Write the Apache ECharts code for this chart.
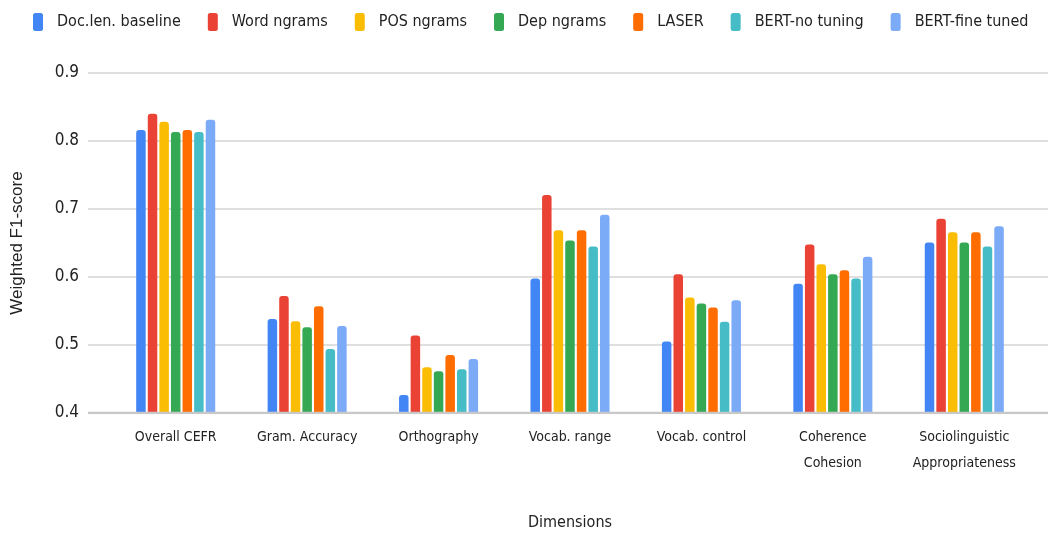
<!DOCTYPE html>
<html><head><meta charset="utf-8">
<script src="https://cdn.jsdelivr.net/npm/echarts@6/dist/echarts.min.js"></script>
<style>html,body{margin:0;padding:0;background:#fff}#c{width:1051px;height:536px}</style>
</head><body><div id="c"></div>
<script>
const categories = ['Overall CEFR','Gram. Accuracy','Orthography','Vocab. range','Vocab. control','Coherence\nCohesion','Sociolinguistic\nAppropriateness'];
const seriesNames = ['Doc.len. baseline','Word ngrams','POS ngrams','Dep ngrams','LASER','BERT-no tuning','BERT-fine tuned'];
const docLen   = [0.816,0.537,0.425,0.597,0.504,0.589,0.650];
const wordNg   = [0.840,0.571,0.513,0.720,0.603,0.647,0.685];
const posNg    = [0.828,0.534,0.466,0.668,0.569,0.618,0.665];
const depNg    = [0.813,0.525,0.460,0.653,0.560,0.603,0.650];
const laser    = [0.816,0.556,0.484,0.668,0.554,0.609,0.665];
const bertNo   = [0.813,0.493,0.463,0.644,0.533,0.597,0.644];
const bertFine = [0.831,0.527,0.478,0.691,0.565,0.629,0.674];
const yTicks = [0.4,0.5,0.6,0.7,0.8,0.9];
const colors = ['#4285F4','#EA4335','#FBBC04','#34A853','#FF6D01','#46BDC6','#7BAAF7'];
const allData = [docLen,wordNg,posNg,depNg,laser,bertNo,bertFine];
const narrow = "'DejaVu Sans Condensed','Liberation Sans',sans-serif";

const chart = echarts.init(document.getElementById('c'));
chart.setOption({
  animation:false,
  color: colors,
  legend:{
    top: 8, left: 28, width: 1040,
    itemWidth: 10, itemHeight: 18, itemGap: 27,
    icon: 'roundRect',
    textStyle:{fontFamily:narrow,fontSize:16,color:'#222',padding:[0,0,0,9]},
    data: seriesNames
  },
  grid:[
    {left:110,right:21,top:73,bottom:123},
    {left:88,right:3,top:73,bottom:123}
  ],
  xAxis:[
    {type:'category',gridIndex:0,data:categories,
     axisLine:{show:false},axisTick:{show:false},
     axisLabel:{fontFamily:narrow,fontSize:14,color:'#222',margin:12,lineHeight:26,interval:0},
     name:'Dimensions',nameLocation:'middle',nameGap:103,
     nameTextStyle:{fontFamily:narrow,fontSize:16,color:'#222'}},
    {type:'value',gridIndex:1,show:false,min:0,max:1}
  ],
  yAxis:[
    {type:'value',gridIndex:0,min:yTicks[0],max:yTicks[yTicks.length-1],interval:0.1,
     show:false},
    {type:'value',gridIndex:1,min:yTicks[0],max:yTicks[yTicks.length-1],interval:0.1,
     axisLine:{show:false},axisTick:{show:false},
     axisLabel:{fontFamily:narrow,fontSize:17,color:'#222',margin:9,formatter:v=>v.toFixed(1)},
     splitLine:{lineStyle:{color:'#d4d4d4',width:1.5}},
     name:'Weighted F1-score',nameLocation:'middle',nameGap:62,
     nameTextStyle:{fontFamily:"'Liberation Sans',Arial,sans-serif",fontSize:17,color:'#222'}}
  ],
  series: seriesNames.map((n,i)=>({
    name:n,type:'bar',xAxisIndex:0,yAxisIndex:0,data:allData[i],
    barWidth:9.5,barGap:'22%',
    itemStyle:{color:colors[i],borderRadius:[3,3,0,0]}
  })).concat([{
    type:'line',xAxisIndex:1,yAxisIndex:1,data:[[0,0.4],[1,0.4]],symbol:'none',silent:true,
    lineStyle:{color:'#c8c8c8',width:2.5},z:5
  }])
});
</script></body></html>
